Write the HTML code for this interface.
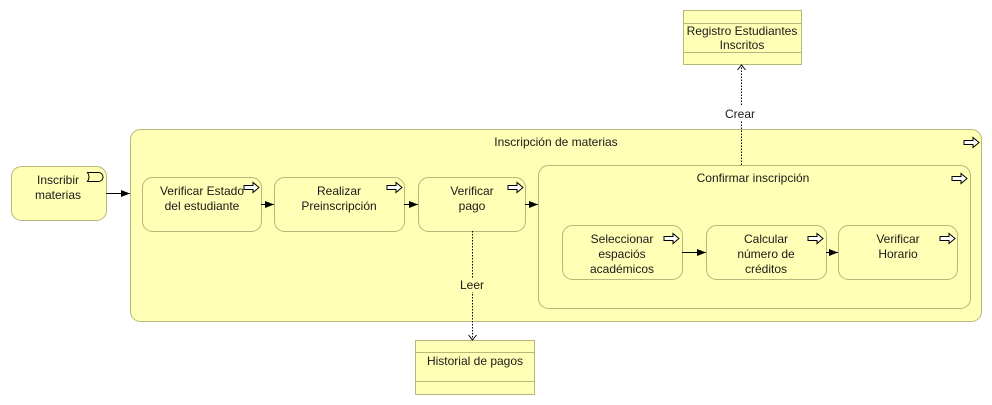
<!DOCTYPE html>
<html><head><meta charset="utf-8"><style>
html,body{margin:0;padding:0;background:#fff;}
svg{display:block;}
text{font-family:"Liberation Sans",sans-serif;font-size:12px;fill:#1a1a1a;}
</style></head><body>
<svg width="992" height="405" viewBox="0 0 992 405" xmlns="http://www.w3.org/2000/svg">
<defs>
<marker id="ah" markerWidth="10" markerHeight="8" refX="9" refY="4" orient="auto" markerUnits="userSpaceOnUse">
<path d="M0,0.5 L9,4 L0,7.5 z" fill="#000"/></marker>
<marker id="oa" markerWidth="10" markerHeight="10" refX="6" refY="5" orient="auto" markerUnits="userSpaceOnUse">
<path d="M1,1 L6,5 L1,9" fill="none" stroke="#000" stroke-width="1"/></marker>
<g id="pi"><path d="M0,3 h9 v-3 l6,5 l-6,5 v-3 h-9 z" fill="#fff" stroke="#000" stroke-width="1"/></g>
</defs>
<g stroke="#b7b77a" fill="#ffffb5" stroke-width="1">
<rect x="683.5" y="10.5" width="118" height="54"/>
<line x1="683.5" y1="23.5" x2="801.5" y2="23.5"/>
<line x1="683.5" y1="52.5" x2="801.5" y2="52.5"/>
<rect x="130.5" y="129.5" width="851" height="192" rx="10"/>
<rect x="11.5" y="166.5" width="95" height="54" rx="10"/>
<rect x="142.5" y="177.5" width="119" height="54" rx="10"/>
<rect x="274.5" y="177.5" width="130" height="54" rx="10"/>
<rect x="418.5" y="177.5" width="107" height="54" rx="10"/>
<rect x="538.5" y="165.5" width="432" height="143" rx="10"/>
<rect x="562.5" y="225.5" width="120" height="54" rx="10"/>
<rect x="706.5" y="225.5" width="120" height="54" rx="10"/>
<rect x="838.5" y="225.5" width="119" height="54" rx="10"/>
<rect x="415.5" y="340.5" width="119" height="54"/>
<line x1="415.5" y1="352.5" x2="534.5" y2="352.5"/>
<line x1="415.5" y1="381.5" x2="534.5" y2="381.5"/>
</g>
<use href="#pi" x="964" y="137.5"/>
<use href="#pi" x="952" y="173.5"/>
<use href="#pi" x="244" y="182.5"/>
<use href="#pi" x="387" y="182.5"/>
<use href="#pi" x="508" y="182.5"/>
<use href="#pi" x="664" y="233.5"/>
<use href="#pi" x="808" y="233.5"/>
<use href="#pi" x="940" y="233.5"/>
<path d="M87.5,172.5 h11 a4.5,4.5 0 0 1 0,9 h-11 q3,-4.5 0,-9 z" fill="none" stroke="#000"/>
<g stroke="#000" stroke-width="1" fill="none">
<line x1="106" y1="193.5" x2="130" y2="193.5" marker-end="url(#ah)"/>
<line x1="261" y1="204.5" x2="274" y2="204.5" marker-end="url(#ah)"/>
<line x1="404" y1="204.5" x2="418" y2="204.5" marker-end="url(#ah)"/>
<line x1="525" y1="204.5" x2="538" y2="204.5" marker-end="url(#ah)"/>
<line x1="682" y1="252.5" x2="706" y2="252.5" marker-end="url(#ah)"/>
<line x1="826" y1="252.5" x2="838" y2="252.5" marker-end="url(#ah)"/>
<line x1="472.5" y1="231" x2="472.5" y2="340" stroke-dasharray="1.5,1.5" marker-end="url(#oa)"/>
<line x1="741.5" y1="165" x2="741.5" y2="65" stroke-dasharray="1.5,1.5" marker-end="url(#oa)"/>
</g>
<rect x="457" y="278" width="30" height="14" fill="#ffffb5"/>
<rect x="722" y="106" width="36" height="14" fill="#fff"/>
<text x="472" y="289" text-anchor="middle">Leer</text>
<text x="740" y="118" text-anchor="middle">Crear</text>
<g text-anchor="middle">
<text x="742" y="35">Registro Estudiantes</text>
<text x="742" y="49">Inscritos</text>
<text x="556" y="146">Inscripción de materias</text>
<text x="58" y="184">Inscribir</text>
<text x="58" y="199">materias</text>
<text x="202" y="195">Verificar Estado</text>
<text x="202" y="210">del estudiante</text>
<text x="339" y="195">Realizar</text>
<text x="339" y="210">Preinscripción</text>
<text x="472" y="195">Verificar</text>
<text x="472" y="210">pago</text>
<text x="753" y="182">Confirmar inscripción</text>
<text x="622" y="243">Seleccionar</text>
<text x="622" y="258">espaciós</text>
<text x="622" y="273">académicos</text>
<text x="766" y="243">Calcular</text>
<text x="766" y="258">número de</text>
<text x="766" y="273">créditos</text>
<text x="898" y="243">Verificar</text>
<text x="898" y="258">Horario</text>
<text x="475" y="365">Historial de pagos</text>
</g>
</svg>
</body></html>
